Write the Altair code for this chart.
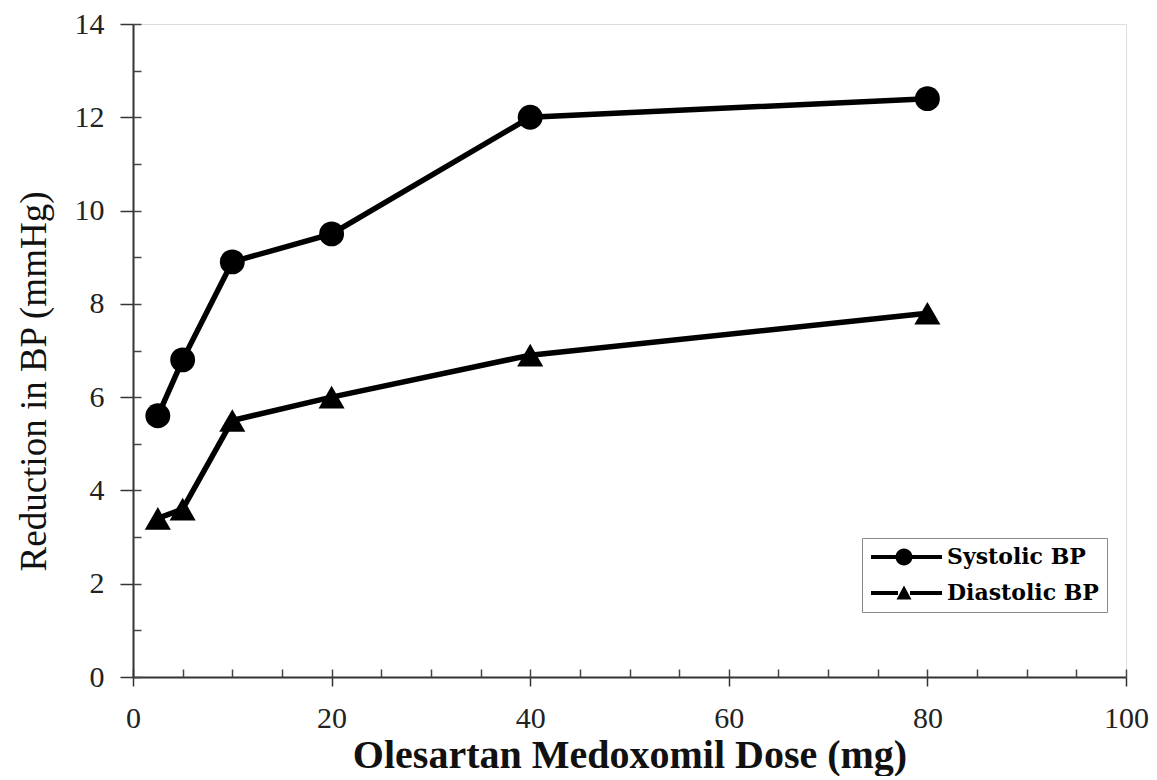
import altair as alt
import pandas as pd

doses = [2.5, 5, 10, 20, 40, 80]
systolic = [5.6, 6.8, 8.9, 9.5, 12.0, 12.4]
diastolic = [3.4, 3.6, 5.5, 6.0, 6.9, 7.8]
series_names = ["Systolic BP", "Diastolic BP"]
x_major = [0, 20, 40, 60, 80, 100]
x_minor = list(range(0, 101, 5))
y_major = [0, 2, 4, 6, 8, 10, 12, 14]
y_minor = list(range(0, 15))

rows = []
for d, s in zip(doses, systolic):
    rows.append({"dose": d, "bp": s, "series": series_names[0]})
for d, s in zip(doses, diastolic):
    rows.append({"dose": d, "bp": s, "series": series_names[1]})
df = pd.DataFrame(rows)

FONT = "Liberation Serif"

xscale = alt.Scale(domain=[0, 100], nice=False, zero=False)
yscale = alt.Scale(domain=[0, 14], nice=False, zero=False)

x_main = alt.X("dose:Q", scale=xscale, axis=alt.Axis(
    orient="bottom", values=x_major, tickSize=9, tickWidth=1.5, tickColor="#333",
    domainColor="#333", domainWidth=2, labelFont=FONT, labelFontSize=30,
    labelColor="#222", labelPadding=17, labelFlush=False,
    title="Olesartan Medoxomil Dose (mg)",
    titleFont=FONT, titleFontSize=40, titleFontWeight="bold", titleColor="#111",
    titlePadding=2, grid=False))
y_main = alt.Y("bp:Q", scale=yscale, axis=alt.Axis(
    orient="left", values=y_major, tickSize=13, tickWidth=1.5, tickColor="#333",
    domainColor="#333", domainWidth=2, labelFont=FONT, labelFontSize=30,
    labelColor="#222", labelPadding=16, labelFlush=False,
    title="Reduction in BP (mmHg)",
    titleFont=FONT, titleFontSize=37, titleFontWeight="normal", titleColor="#111",
    titlePadding=21, titleY=357, grid=False))

x_minor_enc = alt.X("dose:Q", scale=xscale, axis=alt.Axis(
    orient="bottom", values=x_minor, tickSize=8, tickWidth=1.5, tickColor="#444",
    offset=-8, domain=False, labels=False, title=None, grid=False))
y_minor_enc = alt.Y("bp:Q", scale=yscale, axis=alt.Axis(
    orient="left", values=y_minor, tickSize=8, tickWidth=1.5, tickColor="#444",
    offset=-8, domain=False, labels=False, title=None, grid=False))

lines = alt.Chart(df).mark_line(color="black", strokeWidth=5.5).encode(
    x=x_main, y=y_main, detail="series:N")

points = alt.Chart(df).mark_point(filled=True, color="black", opacity=1).encode(
    x=x_minor_enc, y=y_minor_enc,
    shape=alt.Shape("series:N", scale=alt.Scale(domain=series_names, range=["circle", "triangle-up"]), legend=None),
    size=alt.Size("series:N", scale=alt.Scale(domain=series_names, range=[620, 680]), legend=None))

bar = "M-1,-0.2L1.7,-0.2L1.7,0.2L-1,0.2ZM2.9,-0.2L6.1,-0.2L6.1,0.2L2.9,0.2Z"
circ_line = bar + "M1.45,0A0.85,0.85,0,1,1,3.15,0A0.85,0.85,0,1,1,1.45,0Z"
tri_line = bar + "M2.3,-0.75L3.05,0.65L1.55,0.65Z"

legend_layer = alt.Chart(df).mark_point(filled=True, color="black", opacity=0).encode(
    x=alt.X("dose:Q", scale=xscale, axis=None),
    y=alt.Y("bp:Q", scale=yscale, axis=None),
    shape=alt.Shape("series:N", scale=alt.Scale(domain=series_names, range=[circ_line, tri_line]),
                    legend=alt.Legend(title=None, orient="none", legendX=729, legendY=514,
                                      symbolSize=400, symbolOpacity=1, symbolFillColor="black",
                                      symbolStrokeWidth=0,
                                      labelFont="DejaVu Serif", labelFontSize=22, labelFontWeight="bold",
                                      labelColor="black", labelOffset=55, rowPadding=14,
                                      labelExpr="datum.label + '    '",
                                      strokeColor="#888", fillColor="white", padding=8,
                                      cornerRadius=0)))

chart = alt.layer(lines, points, legend_layer).resolve_axis(
    x="independent", y="independent").resolve_scale(shape="independent", size="independent").properties(
    width=993, height=653, autosize=alt.AutoSizeParams(type="none"),
    padding={"left": 125, "top": 16, "right": 23, "bottom": 99}
).configure_view(stroke="#888", strokeWidth=2).configure(background="white")

chart.save("out.html", embed_options={"renderer": "svg", "actions": False})
